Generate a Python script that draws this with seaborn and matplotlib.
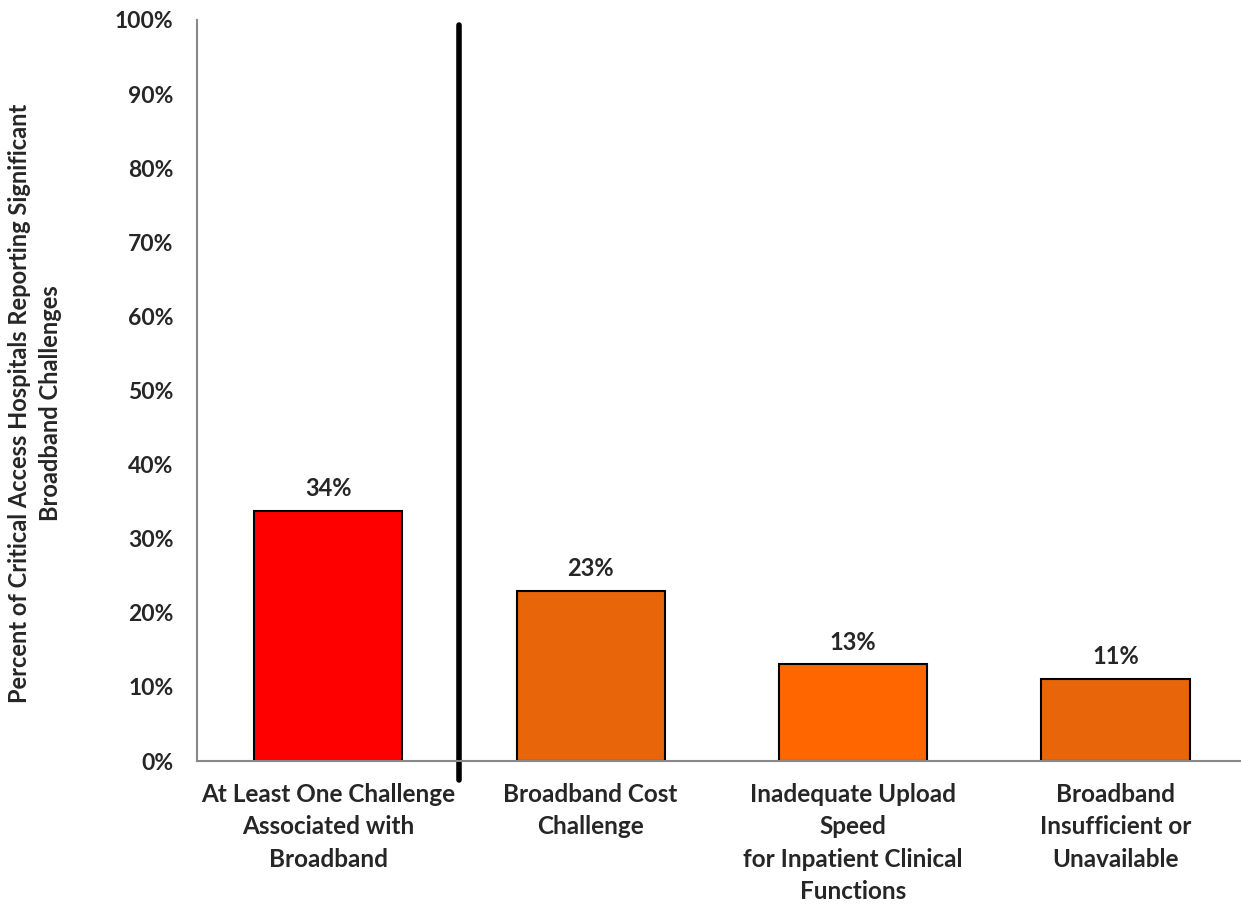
import pandas as pd
import seaborn as sns
import matplotlib.pyplot as plt
from matplotlib.ticker import PercentFormatter, MultipleLocator, FixedLocator

# Data
categories = [
    'At Least One Challenge\nAssociated with\nBroadband',
    'Broadband Cost\nChallenge',
    'Inadequate Upload\nSpeed\nfor Inpatient Clinical\nFunctions',
    'Broadband\nInsufficient or\nUnavailable',
]
values = [33.8, 23.0, 13.1, 11.1]
labels = ['34%', '23%', '13%', '11%']
colors = ['#FF0000', '#E8650A', '#FF6600', '#E8650A']

df = pd.DataFrame({'Category': categories, 'Value': values})

sns.set_style('white')
plt.rcParams['font.family'] = ['Lato', 'DejaVu Sans']
plt.rcParams['font.weight'] = 'bold'

fig = plt.figure(figsize=(12.41, 9.05), dpi=100)
ax = fig.add_axes([0.1587, 0.159, 0.846, 0.819])

sns.barplot(data=df, x='Category', y='Value', hue='Category', palette=colors,
            legend=False, width=0.565, edgecolor='black', linewidth=1.5,
            saturation=1, ax=ax)

for i, (v, lab) in enumerate(zip(values, labels)):
    ax.text(i, v + 1.4, lab, ha='center', va='bottom', fontsize=17, fontweight='bold')

ax.set_ylim(0, 100)
ax.set_xlim(-0.5, 3.5)
ax.yaxis.set_major_locator(MultipleLocator(10))
ax.yaxis.set_major_formatter(PercentFormatter(decimals=0))

# category labels centred, tick marks between categories
ax.set_xticks(range(len(categories)))
ax.set_xticklabels(categories, fontsize=17.5, fontweight='bold', linespacing=1.48)
ax.tick_params(axis='x', which='major', length=0, pad=16)
ax.xaxis.set_minor_locator(FixedLocator([-0.5, 0.5, 1.5, 2.5, 3.5]))
ax.tick_params(axis='x', which='minor', length=8, width=1.5, color='#888888', direction='out')
ax.tick_params(axis='y', length=6, width=1.5, color='#888888', direction='out', labelsize=16.5, pad=11)
for t in ax.get_yticklabels():
    t.set_fontweight('bold')

for side in ['top', 'right']:
    ax.spines[side].set_visible(False)
for side in ['left', 'bottom']:
    ax.spines[side].set_color('#888888')
    ax.spines[side].set_linewidth(1.5)

# separator between the summary bar and the individual challenges
ax.axvline(0.5, ymin=-0.026, ymax=0.993, color='black', linewidth=4, clip_on=False)

ax.set_xlabel('')
ax.set_ylabel('Percent of Critical Access Hospitals Reporting Significant\nBroadband Challenges',
              fontsize=17, fontweight='bold', linespacing=1.4)
ax.yaxis.set_label_coords(-0.129, 0.483)

fig.savefig('out.png', dpi=100)
